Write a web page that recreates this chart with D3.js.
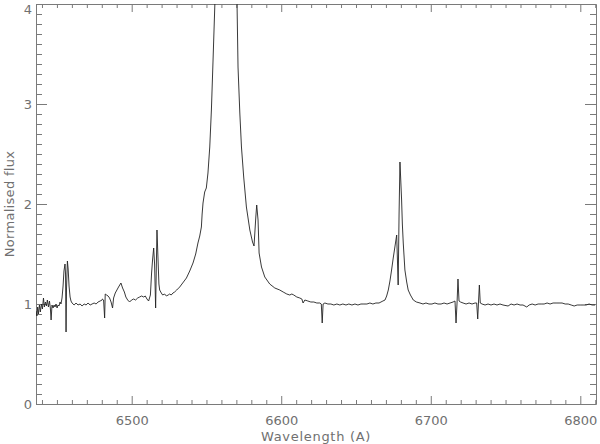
<!DOCTYPE html>
<html>
<head>
<meta charset="utf-8">
<script src="https://cdn.jsdelivr.net/npm/d3@7"></script>
<style>
  html, body { margin: 0; padding: 0; background: #fff; }
  svg { display: block; }
  text { font-family: "DejaVu Sans", sans-serif; fill: #707070; }
</style>
</head>
<body>
<svg id="chart" width="600" height="444"></svg>
<script>
// ---- data ----
const wavelength = [
  6436.0,6436.6,6437.1,6437.6,6438.3,6438.9,6439.6,6440.3,6441.0,6441.6,
  6442.3,6443.0,6443.6,6444.3,6445.0,6445.6,6446.1,6446.7,6447.4,6448.1,
  6448.7,6449.4,6450.1,6450.7,6451.4,6452.1,6452.7,6453.4,6454.1,6454.7,
  6455.4,6455.75,6456.1,6456.4,6457.0,6457.5,6458.1,6458.8,6459.4,6460.1,
  6461.5,6462.8,6464.1,6465.5,6466.8,6468.2,6469.5,6470.8,6472.2,6473.5,
  6474.9,6476.2,6477.5,6478.9,6480.2,6480.5,6481.2,6481.9,6482.3,6483.2,
  6484.2,6485.2,6486.2,6487.2,6487.9,6489.0,6490.1,6491.2,6492.8,6493.9,
  6495.1,6496.1,6497.3,6498.6,6499.9,6501.3,6502.6,6504.0,6505.3,6506.6,
  6508.0,6509.1,6510.2,6511.3,6512.5,6513.3,6514.0,6514.7,6515.3,6516.0,
  6516.5,6516.9,6517.6,6518.2,6518.7,6519.8,6520.7,6522.0,6523.2,6524.4,
  6525.4,6526.4,6527.6,6528.7,6530.1,6532.1,6534.1,6536.6,6538.8,6541.0,
  6542.8,6544.3,6545.5,6546.6,6547.1,6547.7,6548.8,6549.9,6551.0,6552.2,
  6553.3,6554.4,6555.7,6556.9,6558.2,6560.2,6562.9,6565.6,6567.6,6569.2,
  6570.4,6571.1,6572.3,6573.4,6574.9,6576.7,6579.0,6580.8,6581.8,6583.0,
  6583.6,6584.5,6585.2,6586.8,6589.0,6592.3,6595.7,6599.0,6601.3,6603.7,
  6605.7,6607.1,6608.4,6610.4,6612.4,6613.8,6614.6,6615.8,6617.8,6619.8,
  6621.8,6623.8,6625.8,6626.8,6627.4,6628.0,6629.2,6631.2,6633.2,6635.2,
  6637.2,6639.2,6641.2,6643.3,6645.2,6647.3,6649.3,6651.3,6653.3,6655.3,
  6657.3,6659.3,6661.3,6663.3,6665.4,6666.7,6668.0,6669.4,6670.5,6671.6,
  6672.7,6673.8,6674.9,6676.0,6677.2,6677.7,6678.2,6678.8,6679.4,6679.9,
  6680.5,6681.0,6681.6,6682.7,6683.9,6684.9,6686.4,6688.3,6690.4,6692.8,
  6694.8,6696.8,6698.8,6700.8,6702.8,6704.8,6706.9,6708.9,6710.9,6712.9,
  6714.9,6716.2,6716.9,6717.6,6718.2,6718.9,6719.9,6721.6,6723.6,6725.6,
  6727.6,6729.6,6730.7,6731.4,6731.9,6732.5,6733.1,6734.3,6736.3,6738.3,
  6740.3,6742.3,6744.3,6746.3,6748.3,6751.7,6753.7,6755.7,6757.7,6759.7,
  6761.7,6764.2,6765.8,6767.8,6769.8,6771.8,6773.8,6775.8,6777.8,6779.8,
  6781.8,6783.8,6785.8,6787.8,6789.9,6791.9,6793.9,6795.9,6797.9,6799.9,
  6801.9,6803.9,6805.9,6807.9,6809.9
];
const flux = [
  0.93,0.88,0.97,0.90,0.99,0.92,1.00,0.95,1.06,0.97,
  1.02,0.98,1.04,0.97,1.03,0.96,0.84,0.99,0.96,0.99,
  0.97,1.00,0.96,0.99,0.98,1.02,1.00,1.06,1.18,1.33,
  1.40,1.30,0.72,1.15,1.43,1.35,1.18,1.07,1.03,1.01,
  0.99,1.01,0.99,1.00,0.98,1.00,0.99,1.01,0.99,1.00,
  1.01,1.00,1.02,1.03,1.04,1.05,1.04,0.86,1.10,1.09,
  1.08,1.06,1.02,0.96,1.06,1.11,1.14,1.17,1.21,1.16,
  1.12,1.07,1.04,1.02,1.04,1.05,1.04,1.06,1.07,1.08,
  1.07,1.08,1.05,1.03,1.09,1.31,1.45,1.56,1.40,0.96,
  1.40,1.74,1.45,1.20,1.14,1.11,1.09,1.10,1.08,1.09,
  1.10,1.09,1.11,1.12,1.14,1.17,1.21,1.26,1.33,1.41,
  1.50,1.61,1.68,1.77,1.90,2.01,2.12,2.16,2.31,2.57,
  2.94,3.44,4.04,4.60,5.50,7.00,8.50,7.50,6.00,4.80,
  4.04,3.37,2.91,2.57,2.27,1.97,1.74,1.62,1.58,1.87,
  1.99,1.84,1.51,1.37,1.27,1.20,1.16,1.14,1.12,1.10,
  1.09,1.10,1.09,1.07,1.06,1.05,1.01,1.04,1.03,1.02,
  1.02,1.01,1.01,1.00,0.81,1.00,1.01,1.00,1.00,0.99,
  1.00,0.99,1.00,0.99,1.00,0.99,1.00,0.99,1.00,1.00,
  1.00,1.01,1.00,1.01,1.01,1.02,1.03,1.04,1.08,1.14,
  1.23,1.34,1.46,1.57,1.69,1.45,1.19,1.90,2.42,2.25,
  2.04,1.80,1.61,1.34,1.22,1.14,1.09,1.04,1.02,1.01,
  1.00,1.01,1.00,1.00,1.01,1.00,1.00,1.01,1.00,1.01,
  1.02,1.03,0.81,1.02,1.25,1.03,1.02,1.01,1.00,1.01,
  1.00,1.01,1.01,0.85,1.01,1.19,1.01,1.00,0.99,1.00,
  0.99,1.00,0.99,1.00,0.99,0.98,1.00,0.99,1.00,0.99,
  0.99,0.97,0.99,1.00,0.99,1.00,1.00,1.00,1.01,1.00,
  1.01,1.01,1.01,1.01,1.00,1.00,0.99,0.98,0.99,0.99,
  0.99,0.99,1.00,0.99,0.99
];
const xMajorTicks = [6500, 6600, 6700, 6800];
const xTickLabels = ["6500", "6600", "6700", "6800"];
const yMajorTicks = [0, 1, 2, 3, 4];
const yTickLabels = ["0", "1", "2", "3", "4"];
const xTitle = "Wavelength (A)";
const yTitle = "Normalised flux";

// ---- layout ----
const mLeft = 36, mRight = 596, mTop = 4, mBottom = 404;
const svg = d3.select("#chart");
const x = d3.scaleLinear().domain([6436, 6810.5]).range([mLeft, mRight]);
const y = d3.scaleLinear().domain([0, 4]).range([mBottom, mTop]);

const xMinor = d3.range(6440, 6811, 10).filter(v => !xMajorTicks.includes(v));
const yMinor = d3.range(1, 40).map(v => v / 10).filter(v => Math.abs(v - Math.round(v)) > 1e-6);

const axisColor = "#7a7a7a";
function styleAxis(g) {
  g.selectAll("path, line").attr("stroke", axisColor);
  g.selectAll("text").remove();
}
[[mBottom, d3.axisBottom], [mTop, d3.axisTop]].forEach(([pos, fn]) => {
  svg.append("g").attr("transform", `translate(0,${pos})`)
    .call(fn(x).tickValues(xMajorTicks).tickSize(-8).tickSizeOuter(0)).call(styleAxis);
  svg.append("g").attr("transform", `translate(0,${pos})`)
    .call(fn(x).tickValues(xMinor).tickSize(-4).tickSizeOuter(0)).call(g => g.select(".domain").remove()).call(styleAxis);
});
[[mLeft, d3.axisLeft], [mRight, d3.axisRight]].forEach(([pos, fn]) => {
  svg.append("g").attr("transform", `translate(${pos},0)`)
    .call(fn(y).tickValues(yMajorTicks).tickSize(-11).tickSizeOuter(0)).call(styleAxis);
  svg.append("g").attr("transform", `translate(${pos},0)`)
    .call(fn(y).tickValues(yMinor).tickSize(-6).tickSizeOuter(0)).call(g => g.select(".domain").remove()).call(styleAxis);
});

// tick labels
svg.append("g").selectAll("text").data(xMajorTicks).join("text")
  .attr("x", d => x(d) + 0.5).attr("y", 425)
  .attr("text-anchor", "middle").attr("font-size", 13)
  .text((d, i) => xTickLabels[i]);
svg.append("g").selectAll("text").data(yMajorTicks).join("text")
  .attr("x", 32).attr("y", d => Math.max(y(d), 9))
  .attr("dy", "0.36em")
  .attr("text-anchor", "end").attr("font-size", 13)
  .text((d, i) => yTickLabels[i]);

// titles
svg.append("text").attr("x", (mLeft + mRight) / 2).attr("y", 441)
  .attr("text-anchor", "middle").attr("font-size", 13).attr("letter-spacing", 0.7).text(xTitle);
svg.append("text").attr("transform", `translate(14,${(mTop + mBottom) / 2}) rotate(-90)`)
  .attr("text-anchor", "middle").attr("font-size", 13).attr("letter-spacing", 0.3).text(yTitle);

// spectrum
svg.append("clipPath").attr("id", "clip").append("rect")
  .attr("x", mLeft).attr("y", mTop).attr("width", mRight - mLeft + 1).attr("height", mBottom - mTop + 1);
const pts = wavelength.map((w, i) => [w, flux[i]]);
svg.append("path").datum(pts)
  .attr("clip-path", "url(#clip)")
  .attr("fill", "none").attr("stroke", "#222").attr("stroke-width", 0.9)
  .attr("d", d3.line().x(d => x(d[0])).y(d => y(d[1])));
</script>
</body>
</html>
